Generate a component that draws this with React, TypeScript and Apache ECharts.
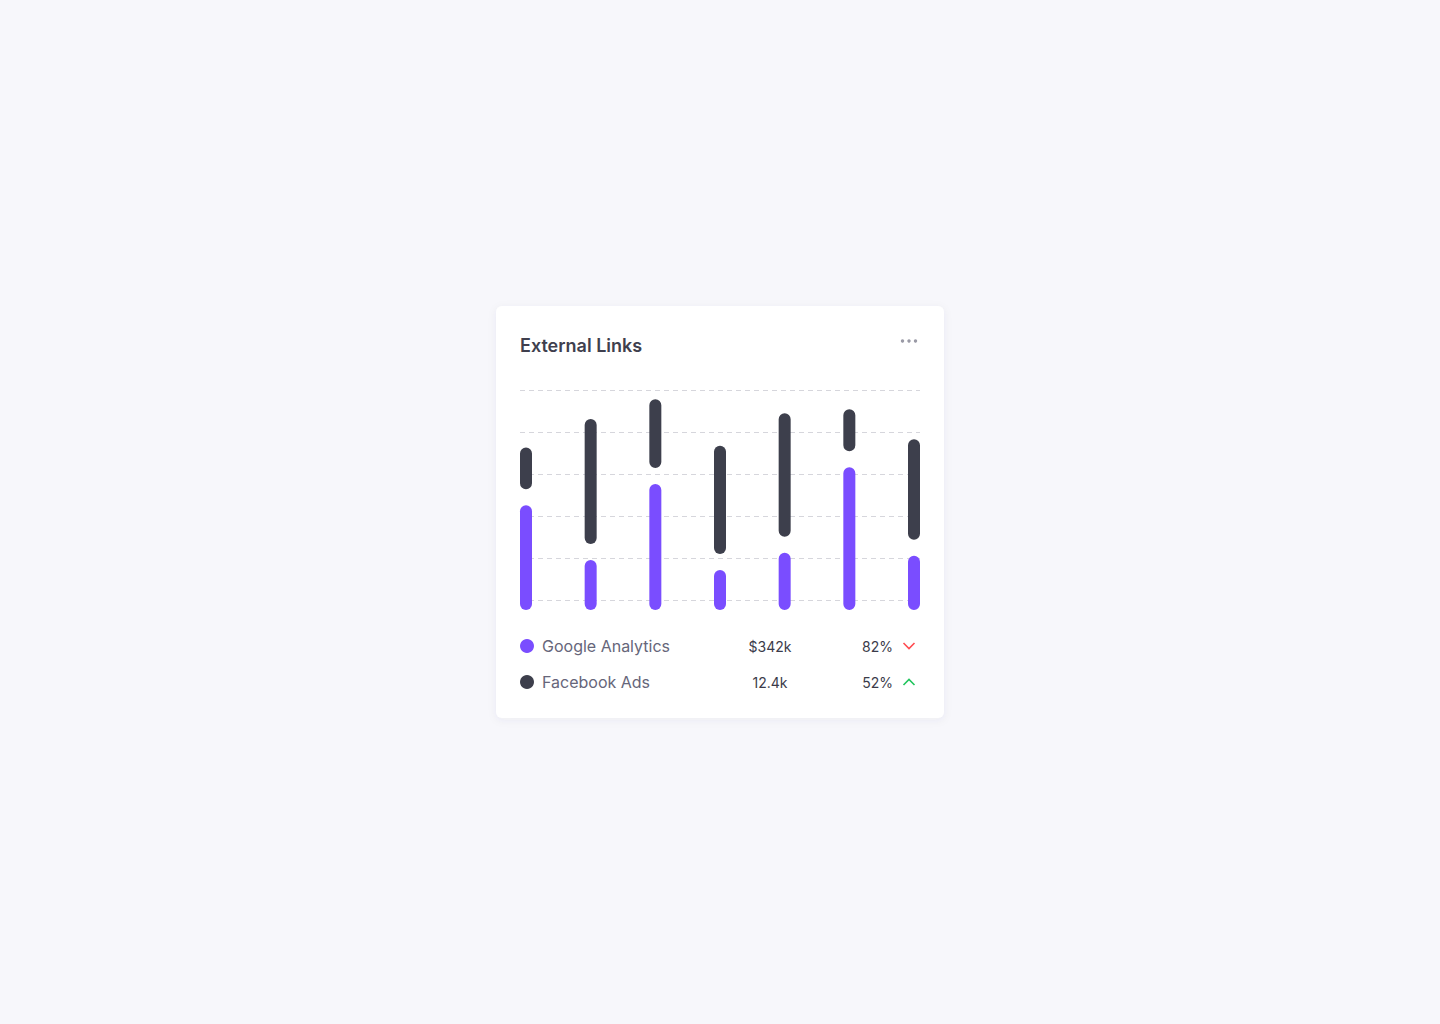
import React, { useEffect, useRef } from "react";
import * as echarts from "echarts";

// ---- Data ----
const categories = ["1", "2", "3", "4", "5", "6", "7"];
// Google Analytics (purple, bottom segment)
const googleAnalytics = [45.1, 19.0, 55.2, 14.3, 22.5, 63.2, 21.1];
// Facebook Ads (dark, stacked on top)
const facebookAds = [27.5, 67.2, 40.4, 59.2, 66.4, 27.6, 55.4];
const yTicks = [0, 20, 40, 60, 80, 100];

const legendNames = ["Google Analytics", "Facebook Ads"];
const legendValues = ["$342k", "12.4k"];
const legendPercents = ["82%", "52%"];
const legendTrends = ["down", "up"];

const PURPLE = "#7A4DFF";
const DARK = "#3D3F4C";
const FONT = "Inter, 'Noto Sans', sans-serif";

export default function App() {
  const ref = useRef<HTMLDivElement>(null);

  useEffect(() => {
    document.body.style.margin = "0";
    const chart = echarts.init(ref.current!, null, { renderer: "svg" });

    const barW = 12;
    const gap = 16;
    const overhang = 10;
    const n = categories.length;
    const halfStep = barW / 2 / (400 - barW) * (n - 1);

    const rowY = [646, 682];
    const legendGraphics: any[] = [];
    legendNames.forEach((name, i) => {
      const y = rowY[i];
      legendGraphics.push(
        { type: "circle", shape: { cx: 527, cy: y, r: 7 }, style: { fill: i === 0 ? PURPLE : DARK } },
        {
          type: "text",
          x: 542,
          y,
          style: { text: name, fill: "#66667a", font: `400 16px ${FONT}`, textVerticalAlign: "middle", textAlign: "left" },
        },
        {
          type: "text",
          x: 770,
          y,
          style: { text: legendValues[i], fill: "#3b3b4a", font: `400 14px ${FONT}`, textVerticalAlign: "middle", textAlign: "center" },
        },
        {
          type: "text",
          x: 893,
          y,
          style: { text: legendPercents[i], fill: "#3b3b4a", font: `400 14px ${FONT}`, textVerticalAlign: "middle", textAlign: "right" },
        },
        legendTrends[i] === "down"
          ? {
              type: "polyline",
              shape: { points: [[903.5, y - 3], [909, y + 2.5], [914.5, y - 3]] },
              style: { stroke: "#FF4C51", lineWidth: 1.6, fill: null },
            }
          : {
              type: "polyline",
              shape: { points: [[903.5, y + 3], [909, y - 2.5], [914.5, y + 3]] },
              style: { stroke: "#22C55E", lineWidth: 1.6, fill: null },
            }
      );
    });

    chart.setOption({
      animation: false,
      backgroundColor: "#F7F7FB",
      grid: { left: 520, top: 390, width: 400, height: 210, containLabel: false },
      xAxis: {
        type: "value",
        min: -halfStep,
        max: n - 1 + halfStep,
        show: false,
      },
      yAxis: {
        type: "value",
        min: yTicks[0],
        max: yTicks[yTicks.length - 1],
        interval: yTicks[1] - yTicks[0],
        axisLabel: { show: false },
        axisLine: { show: false },
        axisTick: { show: false },
        splitLine: { show: true, lineStyle: { color: "#D6D6DC", type: [5, 4], width: 1 } },
      },
      graphic: [
        {
          type: "rect",
          z: -10,
          shape: { x: 496, y: 306, width: 448, height: 412, r: 6 },
          style: { fill: "#FFFFFF", shadowBlur: 8, shadowColor: "rgba(60,60,90,0.06)", shadowOffsetY: 2 },
        },
        {
          type: "text",
          x: 520,
          y: 345,
          style: { text: "External Links", fill: "#3f3f4e", font: `600 18px ${FONT}`, textVerticalAlign: "middle" },
        },
        { type: "circle", shape: { cx: 902.5, cy: 341, r: 1.7 }, style: { fill: "#9A9AA6" } },
        { type: "circle", shape: { cx: 909, cy: 341, r: 1.7 }, style: { fill: "#9A9AA6" } },
        { type: "circle", shape: { cx: 915.5, cy: 341, r: 1.7 }, style: { fill: "#9A9AA6" } },
        ...legendGraphics,
      ],
      series: [
        {
          type: "custom",
          clip: false,
          data: categories.map((_, i) => [i, googleAnalytics[i], facebookAds[i]]),
          renderItem: (params: any, api: any) => {
            const i = api.value(0);
            const p = api.value(1);
            const f = api.value(2);
            const base = api.coord([i, 0]);
            const pTop = api.coord([i, p]);
            const dTop = api.coord([i, p + f]);
            const x = base[0] - barW / 2;
            const purpleBottom = base[1] + overhang;
            const darkBottom = pTop[1] - gap;
            return {
              type: "group",
              children: [
                {
                  type: "rect",
                  shape: { x, y: pTop[1], width: barW, height: purpleBottom - pTop[1], r: barW / 2 },
                  style: { fill: PURPLE },
                },
                {
                  type: "rect",
                  shape: { x, y: dTop[1], width: barW, height: darkBottom - dTop[1], r: barW / 2 },
                  style: { fill: DARK },
                },
              ],
            };
          },
        },
      ],
    });

    return () => chart.dispose();
  }, []);

  return <div ref={ref} style={{ width: 1440, height: 1024, position: "absolute", left: 0, top: 0 }} />;
}
